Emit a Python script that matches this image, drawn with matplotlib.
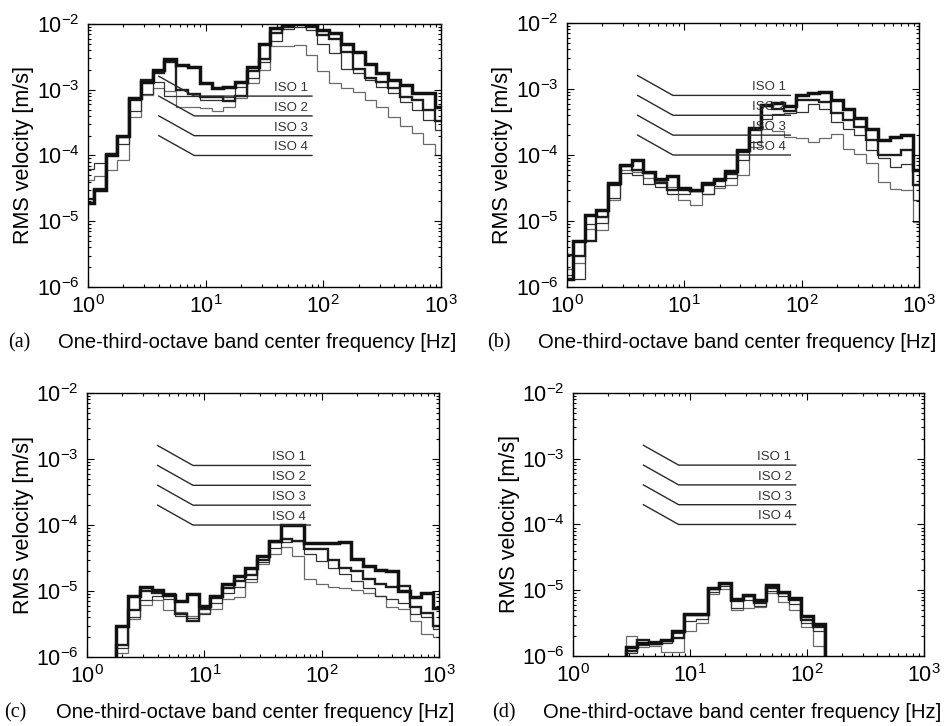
import numpy as np
import matplotlib
matplotlib.use("Agg")
import matplotlib.pyplot as plt
from matplotlib.ticker import LogLocator, NullFormatter

plt.rcParams['font.family'] = ['Liberation Sans', 'DejaVu Sans']
plt.rcParams['mathtext.fontset'] = 'custom'
plt.rcParams['mathtext.rm'] = 'Liberation Sans'
plt.rcParams['mathtext.it'] = 'Liberation Sans:italic'
plt.rcParams['mathtext.bf'] = 'Liberation Sans:bold'

# One-third-octave band centre frequencies [Hz]
band_hz = [1, 1.25, 1.6, 2, 2.5, 3.15, 4, 5, 6.3, 8, 10, 12.5, 16, 20, 25, 31.5,
           40, 50, 63, 80, 100, 125, 160, 200, 250, 315, 400, 500, 630, 800, 1000]

# ISO criterion curves: frequency points and RMS velocity levels
iso_hz = [4, 8, 80]
iso_1 = [1.6e-3, 8e-4, 8e-4]
iso_2 = [8e-4, 4e-4, 4e-4]
iso_3 = [4e-4, 2e-4, 2e-4]
iso_4 = [2e-4, 1e-4, 1e-4]
iso_names = ["ISO 1", "ISO 2", "ISO 3", "ISO 4"]

# (a) all bands 1 Hz - 1 kHz
a_first = 0
a_s1 = [1.9e-5, 3.0e-5, 1.0e-4, 2.0e-4, 7.5e-4, 1.3e-3, 2.0e-3, 2.9e-3, 2.4e-3, 2.2e-3,
        1.25e-3, 1.05e-3, 1.1e-3, 1.3e-3, 2.2e-3, 5.0e-3, 8.6e-3, 1.0e-2, 1.0e-2, 1.0e-2,
        8.1e-3, 7.2e-3, 5.0e-3, 3.8e-3, 2.5e-3, 1.8e-3, 1.4e-3, 1.2e-3, 8.9e-4, 8.9e-4, 5.4e-4]
a_s2 = [2.2e-5, 3.1e-5, 1.05e-4, 1.9e-4, 7.0e-4, 1.4e-3, 1.8e-3, 2.6e-3, 1.0e-3, 8.5e-4,
        7.8e-4, 7.8e-4, 6.8e-4, 8.0e-4, 1.9e-3, 2.9e-3, 7.2e-3, 9.0e-3, 1.0e-2, 9.0e-3,
        6.8e-3, 6.0e-3, 3.8e-3, 2.1e-3, 1.5e-3, 1.3e-3, 1.05e-3, 7.8e-4, 6.9e-4, 5.0e-4, 3.3e-4]
a_s3 = [6.2e-5, 7.6e-5, 1.1e-4, 1.5e-4, 4.8e-4, 8.5e-4, 1.3e-3, 7.9e-4, 7.9e-4, 7.9e-4,
        7.0e-4, 7.0e-4, 7.8e-4, 1.1e-3, 1.5e-3, 2.6e-3, 5.5e-3, 8.5e-3, 9.0e-3, 8.0e-3,
        5.0e-3, 3.6e-3, 2.1e-3, 1.8e-3, 1.4e-3, 1.1e-3, 9.0e-4, 6.5e-4, 4.9e-4, 3.5e-4, 2.4e-4]
a_s4 = [4.3e-5, 4.9e-5, 6.0e-5, 8.5e-5, 3.9e-4, 8.3e-4, 1.05e-3, 9.5e-4, 5.5e-4, 5.5e-4,
        5.2e-4, 4.7e-4, 5.5e-4, 7.4e-4, 1.25e-3, 2.0e-3, 4.7e-3, 4.7e-3, 4.8e-3, 3.4e-3,
        1.9e-3, 1.25e-3, 1.05e-3, 9.3e-4, 6.9e-4, 5.4e-4, 3.9e-4, 2.8e-4, 2.2e-4, 1.5e-4, 1.0e-4]

# (b) all bands 1 Hz - 1 kHz
b_first = 0
b_s1 = [1.3e-6, 5.0e-6, 1.25e-5, 1.45e-5, 3.7e-5, 7.0e-5, 8.3e-5, 5.5e-5, 4.4e-5, 4.8e-5,
        3.2e-5, 3.0e-5, 3.7e-5, 4.3e-5, 5.8e-5, 1.2e-4, 2.6e-4, 5.8e-4, 6.2e-4, 5.6e-4,
        8.0e-4, 8.7e-4, 8.9e-4, 6.7e-4, 4.9e-4, 3.6e-4, 2.5e-4, 1.7e-4, 1.9e-4, 2.0e-4, 6.0e-5]
b_s2 = [3.1e-6, 2.9e-6, 4.9e-6, 1.15e-5, 3.5e-5, 6.8e-5, 6.0e-5, 5.4e-5, 3.8e-5, 3.0e-5,
        2.9e-5, 2.8e-5, 3.5e-5, 4.0e-5, 5.2e-5, 1.1e-4, 2.4e-4, 5.5e-4, 5.0e-4, 4.6e-4,
        6.8e-4, 6.8e-4, 6.4e-4, 4.3e-4, 3.4e-4, 2.7e-4, 1.7e-4, 1.0e-4, 1.0e-4, 1.2e-4, 3.5e-5]
b_s3 = [1.5e-6, 1.3e-6, 9.0e-6, 9.3e-6, 2.2e-5, 5.3e-5, 5.0e-5, 3.6e-5, 3.3e-5, 2.6e-5,
        2.6e-5, 2.8e-5, 2.6e-5, 3.4e-5, 4.5e-5, 8.5e-5, 1.6e-4, 3.5e-4, 4.2e-4, 4.3e-4,
        4.5e-4, 6.0e-4, 5.0e-4, 3.2e-4, 2.5e-4, 2.0e-4, 1.2e-4, 9.0e-5, 6.5e-5, 7.4e-5, 2.1e-5]
b_s4 = [1.9e-6, 2.3e-6, 7.5e-6, 7.4e-6, 2.1e-5, 6.0e-5, 5.5e-5, 4.5e-5, 4.0e-5, 3.3e-5,
        2.1e-5, 1.75e-5, 2.6e-5, 3.2e-5, 3.5e-5, 5.0e-5, 1.3e-4, 2.5e-4, 2.3e-4, 1.9e-4,
        1.8e-4, 1.6e-4, 1.8e-4, 2.1e-4, 1.25e-4, 1.05e-4, 7.5e-5, 3.9e-5, 3.1e-5, 3.0e-5, 9.6e-6]

# (c) bands 2 Hz - 1 kHz
c_first = 3
c_s1 = [2.95e-6, 8.5e-6, 1.14e-5, 1.02e-5, 8.7e-6, 7.1e-6, 9.0e-6, 5.9e-6, 8.5e-6, 1.28e-5,
        1.7e-5, 2.2e-5, 3.4e-5, 5.8e-5, 1.0e-4, 1.0e-4, 5.4e-5, 5.4e-5, 5.4e-5, 5.5e-5,
        3.1e-5, 2.4e-5, 2.1e-5, 2.0e-5, 1.0e-5, 8.2e-6, 9.4e-6, 5.5e-6]
c_s2 = [1.5e-6, 5.1e-6, 1.0e-5, 9.5e-6, 9.0e-6, 4.5e-6, 3.5e-6, 5.3e-6, 7.8e-6, 1.1e-5,
        1.4e-5, 1.75e-5, 3.0e-5, 5.5e-5, 6.1e-5, 5.8e-5, 4.4e-5, 4.3e-5, 3.0e-5, 2.2e-5,
        2.0e-5, 1.5e-5, 1.3e-5, 1.15e-5, 1.2e-5, 5.8e-6, 4.6e-6, 3.0e-6]
c_s3 = [1.35e-6, 4.0e-6, 7.4e-6, 8.5e-6, 7.5e-6, 4.2e-6, 3.9e-6, 4.5e-6, 6.5e-6, 9.2e-6,
        1.15e-5, 1.5e-5, 2.8e-5, 4.5e-5, 5.5e-5, 5.8e-5, 3.7e-5, 2.9e-5, 2.2e-5, 1.8e-5,
        1.4e-5, 1.1e-5, 8.5e-6, 7.5e-6, 6.5e-6, 4.5e-6, 4.0e-6, 2.7e-6]
c_s4 = [1.17e-6, 3.8e-6, 6.1e-6, 7.3e-6, 5.1e-6, 4.8e-6, 4.2e-6, 4.6e-6, 5.3e-6, 7.5e-6,
        8.2e-6, 1.38e-5, 2.6e-5, 3.6e-5, 4.6e-5, 3.4e-5, 1.5e-5, 1.3e-5, 1.15e-5, 1.1e-5,
        1.05e-5, 9.5e-6, 8.5e-6, 5.8e-6, 5.3e-6, 3.5e-6, 2.2e-6, 2.0e-6]

# (d) bands 3.15 Hz - 125 Hz
d_first = 5
d_s1 = [1.35e-6, 1.55e-6, 1.6e-6, 1.75e-6, 2.4e-6, 4.4e-6, 4.3e-6, 1.1e-5, 1.3e-5, 7.3e-6,
        8.5e-6, 7.1e-6, 1.2e-5, 9.3e-6, 7.5e-6, 4.0e-6, 3.1e-6]
d_s2 = [1.2e-6, 1.75e-6, 1.65e-6, 1.7e-6, 1.9e-6, 4.2e-6, 4.2e-6, 1.05e-5, 1.25e-5, 6.8e-6,
        8.2e-6, 6.5e-6, 1.1e-5, 9.0e-6, 7.2e-6, 3.5e-6, 2.8e-6]
d_s3 = [1.1e-6, 1.45e-6, 1.5e-6, 1.6e-6, 2.2e-6, 3.4e-6, 3.6e-6, 9.5e-6, 1.15e-5, 5.3e-6,
        7.0e-6, 5.8e-6, 9.8e-6, 8.2e-6, 6.2e-6, 3.2e-6, 2.4e-6]
d_s4 = [2.0e-6, 1.35e-6, 1.4e-6, 1.15e-6, 1.15e-6, 2.4e-6, 3.2e-6, 8.8e-6, 1.05e-5, 5.0e-6,
        5.3e-6, 5.5e-6, 9.0e-6, 6.7e-6, 5.0e-6, 2.8e-6, 1.4e-6]

# band edges lie half a third-octave step either side of each centre
band_index = np.arange(len(band_hz) + 1)
edges = 10.0 ** ((band_index - 0.5) / 10.0)

styles = [  # drawn from lightest to heaviest
    dict(color="#6a6a6a", lw=0.9),
    dict(color="#333333", lw=0.9),
    dict(color="#1e1e1e", lw=1.7),
    dict(color="#111111", lw=2.5),
]

panels = [
    # letter, axes rect, first band, series (light->heavy), closed outline
    ("(a)", [0.0932, 0.6047, 0.3740, 0.3623], a_first, [a_s4, a_s3, a_s2, a_s1], False),
    ("(b)", [0.6006, 0.6047, 0.3729, 0.3636], b_first, [b_s4, b_s3, b_s2, b_s1], False),
    ("(c)", [0.0922, 0.0950, 0.3729, 0.3636], c_first, [c_s4, c_s3, c_s2, c_s1], True),
    ("(d)", [0.6070, 0.0964, 0.3718, 0.3623], d_first, [d_s4, d_s3, d_s2, d_s1], True),
]

label_pos = {  # (letter x, label centre x, row y) in figure fraction
    "(a)": (0.009, 0.272, 0.528),
    "(b)": (0.516, 0.781, 0.528),
    "(c)": (0.004, 0.270, 0.018),
    "(d)": (0.521, 0.786, 0.018),
}

fig = plt.figure(figsize=(9.44, 7.26), dpi=100)

for letter, rect, first, series, closed in panels:
    ax = fig.add_axes(rect)
    n = len(series[0])
    e = edges[first:first + n + 1]
    for vals, st in zip(series, styles):
        ax.stairs(vals, e, baseline=(1e-9 if closed else None), fill=False,
                  **st)

    for levels, name in zip([iso_1, iso_2, iso_3, iso_4], iso_names):
        ax.plot(iso_hz, levels, color="#2a2a2a", lw=1.0)
        ax.annotate(name, xy=(iso_hz[-1], levels[-1]), xytext=(-3, 1.5),
                    textcoords="offset points", ha="right", va="bottom",
                    fontsize=9.5, color="#333333")

    ax.set_xscale("log")
    ax.set_yscale("log")
    ax.set_xlim(1, 1000)
    ax.set_ylim(1e-6, 1e-2)
    ax.xaxis.set_minor_locator(LogLocator(base=10, subs=np.arange(2, 10)))
    ax.yaxis.set_minor_locator(LogLocator(base=10, subs=np.arange(2, 10)))
    ax.xaxis.set_minor_formatter(NullFormatter())
    ax.yaxis.set_minor_formatter(NullFormatter())
    ax.tick_params(which="both", direction="in", top=True, right=True,
                   labelsize=15.5, width=0.8)
    ax.tick_params(which="major", length=5, pad=6)
    ax.tick_params(which="minor", length=2.5)
    for sp in ax.spines.values():
        sp.set_linewidth(1.0)

    ax.set_ylabel("RMS velocity [m/s]", fontsize=15.5)
    ax.yaxis.set_label_coords(-0.152, 0.5)

    lx, cx, ry = label_pos[letter]
    fig.text(lx, ry, letter, fontsize=14.5, family=["Liberation Serif"],
             va="center", ha="left")
    fig.text(cx, ry, "One-third-octave band center frequency [Hz]",
             fontsize=14.5, va="center", ha="center")

fig.savefig("out.png", dpi=100)
